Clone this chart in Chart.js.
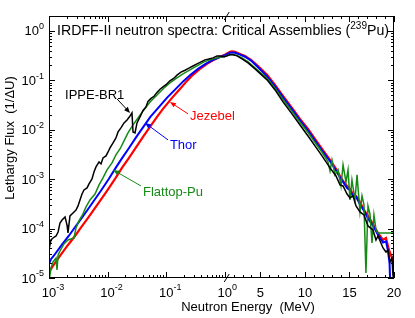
<!DOCTYPE html>
<html>
<head>
<meta charset="utf-8">
<script src="https://cdn.jsdelivr.net/npm/chart.js@4.4.1/dist/chart.umd.min.js"></script>
<style>
    html, body { margin: 0; padding: 0; background: #fff; }
    canvas { display: block; }
</style>
</head>
<body>
<canvas id="spectraChart" width="415" height="318"></canvas>
<script>
// Data (energy in MeV, lethargy flux in 1/dU)
const jezebelEnergy = [1.0e-3, 1.17e-3, 1.54e-3, 2.11e-3, 2.78e-3, 3.38e-3, 4.64e-3, 5.64e-3, 7.43e-3, 9.78e-3, 1.34e-2, 1.76e-2, 2.32e-2, 2.94e-2, 4.03e-2, 5.30e-2, 6.98e-2, 8.84e-2, 0.126, 0.172, 0.227, 0.287, 0.378, 0.499, 0.631, 0.831, 1.0, 1.26, 1.59, 1.82, 2.16, 2.72, 3.28, 3.95, 4.74, 5.75, 6.65, 7.54, 8.55, 9.45, 10.35, 11.13, 11.92, 12.82, 13.49, 13.94, 14.28, 14.73, 15.06, 15.40, 15.74, 16.18, 16.63, 17.08, 17.64, 18.20, 18.77, 19.10, 19.44, 19.77, 20.0];
const jezebelFlux = [1.32e-5, 1.75e-5, 2.79e-5, 4.66e-5, 7.08e-5, 9.82e-5, 1.64e-4, 2.27e-4, 3.62e-4, 5.77e-4, 1.01e-3, 1.69e-3, 2.69e-3, 4.08e-3, 7.15e-3, 1.14e-2, 1.82e-2, 2.64e-2, 4.41e-2, 6.70e-2, 9.73e-2, 0.129, 0.170, 0.215, 0.253, 0.298, 0.327, 0.351, 0.376, 0.385, 0.376, 0.342, 0.312, 0.259, 0.195, 0.129, 8.07e-2, 4.83e-2, 2.76e-2, 1.66e-2, 1.04e-2, 6.51e-3, 4.08e-3, 2.45e-3, 1.61e-3, 1.16e-3, 9.20e-4, 7.28e-4, 6.34e-4, 5.01e-4, 4.57e-4, 3.45e-4, 2.38e-4, 1.80e-4, 1.24e-4, 8.15e-5, 5.87e-5, 6.46e-5, 3.69e-5, 2.54e-5, 1.59e-5];

const thorEnergy = [1.0e-3, 1.08e-3, 1.20e-3, 1.65e-3, 2.17e-3, 2.64e-3, 3.63e-3, 4.41e-3, 5.80e-3, 7.64e-3, 1.047e-2, 1.375e-2, 1.78e-2, 2.26e-2, 3.10e-2, 4.08e-2, 5.37e-2, 7.07e-2, 0.103, 0.146, 0.199, 0.261, 0.350, 0.471, 0.607, 0.831, 1.0, 1.26, 1.59, 1.82, 2.16, 2.72, 3.28, 3.95, 4.74, 5.75, 6.65, 7.54, 8.55, 9.45, 10.35, 11.13, 11.92, 12.82, 13.49, 13.94, 14.28, 14.73, 15.06, 15.40, 15.74, 16.18, 16.63, 17.08, 17.64, 18.20, 18.77, 19.10, 19.32, 19.50, 19.60];
const thorFlux = [1.9e-5, 2.4e-5, 2.79e-5, 4.66e-5, 7.08e-5, 9.82e-5, 1.64e-4, 2.27e-4, 3.62e-4, 5.77e-4, 1.01e-3, 1.69e-3, 2.69e-3, 4.08e-3, 7.15e-3, 1.14e-2, 1.82e-2, 2.64e-2, 4.41e-2, 6.70e-2, 9.73e-2, 0.129, 0.170, 0.215, 0.253, 0.295, 0.318, 0.338, 0.360, 0.366, 0.360, 0.330, 0.300, 0.250, 0.183, 0.120, 7.5e-2, 4.5e-2, 2.57e-2, 1.54e-2, 9.6e-3, 6.0e-3, 3.8e-3, 2.3e-3, 1.5e-3, 1.08e-3, 8.8e-4, 6.6e-4, 6.0e-4, 4.5e-4, 4.4e-4, 3.1e-4, 2.3e-4, 1.6e-4, 1.15e-4, 7.5e-5, 5.2e-5, 5.5e-5, 3.6e-5, 2.0e-5, 6e-6];

const flattopEnergy = [1.0e-3, 1.08e-3, 1.17e-3, 1.32e-3, 1.37e-3, 1.43e-3, 1.60e-3, 1.80e-3, 2.11e-3, 2.67e-3, 2.89e-3, 3.25e-3, 3.81e-3, 4.29e-3, 5.01e-3, 6.10e-3, 7.15e-3, 8.35e-3, 9.78e-3, 1.19e-2, 1.39e-2, 1.63e-2, 1.91e-2, 2.23e-2, 2.72e-2, 3.31e-2, 4.03e-2, 5.30e-2, 6.98e-2, 9.18e-2, 0.116, 0.153, 0.194, 0.255, 0.336, 0.443, 0.561, 0.738, 0.90, 1.26, 1.59, 1.93, 2.38, 2.94, 3.62, 4.40, 5.75, 6.65, 7.54, 8.55, 9.45, 10.35, 11.13, 11.92, 12.26, 12.59, 12.82, 13.04, 13.38, 13.72, 14.05, 14.28, 14.61, 14.84, 15.06, 15.28, 15.62, 15.85, 16.18, 16.41, 16.63, 16.85, 17.08, 17.30, 17.53, 17.75, 17.98, 18.20, 20.0];
const flattopFlux = [8.3e-6, 1.59e-5, 2.11e-5, 2.54e-5, 1.45e-5, 2.92e-5, 3.86e-5, 4.88e-5, 5.88e-5, 6.45e-5, 1.03e-4, 1.43e-4, 1.98e-4, 2.74e-4, 3.79e-4, 5.01e-4, 7.64e-4, 1.06e-3, 1.54e-3, 2.13e-3, 3.09e-3, 4.08e-3, 5.93e-3, 8.61e-3, 1.25e-2, 1.73e-2, 2.40e-2, 3.65e-2, 5.06e-2, 7.01e-2, 8.85e-2, 0.112, 0.135, 0.162, 0.195, 0.236, 0.259, 0.284, 0.298, 0.312, 0.334, 0.334, 0.320, 0.284, 0.236, 0.178, 0.110, 6.9e-2, 4.1e-2, 2.35e-2, 1.42e-2, 8.8e-3, 5.5e-3, 3.5e-3, 2.81e-3, 2.23e-3, 1.47e-3, 2.45e-3, 1.22e-3, 1.54e-3, 7.28e-4, 1.94e-3, 8.77e-4, 1.54e-3, 3.79e-4, 9.63e-4, 3.79e-4, 1.22e-3, 2.17e-4, 4.57e-4, 3.01e-4, 1.26e-5, 2.87e-4, 1.98e-4, 5.11e-5, 1.88e-4, 9.37e-5, 8.15e-5, 8.15e-5];

const ippeEnergy = [1.0e-3, 1.08e-3, 1.17e-3, 1.32e-3, 1.43e-3, 1.54e-3, 1.67e-3, 1.88e-3, 2.03e-3, 2.11e-3, 2.28e-3, 2.57e-3, 2.89e-3, 3.13e-3, 3.38e-3, 3.66e-3, 3.96e-3, 4.46e-3, 4.82e-3, 5.42e-3, 5.86e-3, 6.34e-3, 7.15e-3, 7.73e-3, 8.35e-3, 9.40e-3, 1.02e-2, 1.10e-2, 1.24e-2, 1.39e-2, 1.51e-2, 1.69e-2, 1.91e-2, 2.15e-2, 2.42e-2, 2.61e-2, 2.72e-2, 2.94e-2, 3.18e-2, 3.58e-2, 4.03e-2, 4.53e-2, 4.90e-2, 5.51e-2, 6.21e-2, 6.98e-2, 7.85e-2, 8.84e-2, 9.95e-2, 0.116, 0.136, 0.153, 0.179, 0.210, 0.245, 0.287, 0.336, 0.394, 0.461, 0.540, 0.631, 0.738, 0.831, 0.972, 1.26, 1.59, 1.93, 2.38, 2.94, 3.62, 4.40, 5.75, 6.65, 7.54, 8.55, 9.45, 10.35, 11.13, 11.92, 12.82, 13.49, 13.94, 14.28, 14.73, 15.06, 15.40, 15.74, 16.18, 16.63, 17.08, 17.64, 17.98, 18.20, 18.77, 19.10, 19.32, 19.55, 19.77, 19.88, 20.0];
const ippeFlux = [3.69e-5, 5.88e-5, 6.45e-5, 7.08e-5, 8.53e-5, 1.30e-4, 1.49e-4, 1.72e-4, 1.18e-4, 8.15e-5, 1.80e-4, 2.07e-4, 2.38e-4, 2.87e-4, 3.79e-4, 5.01e-4, 6.04e-4, 6.64e-4, 8.00e-4, 1.01e-3, 1.40e-3, 1.77e-3, 2.23e-3, 2.03e-3, 2.69e-3, 2.95e-3, 3.55e-3, 4.29e-3, 5.41e-3, 6.82e-3, 9.02e-3, 1.09e-2, 1.37e-2, 1.58e-2, 1.90e-2, 2.19e-2, 9.02e-3, 8.62e-3, 1.37e-2, 1.82e-2, 2.45e-2, 2.90e-2, 3.75e-2, 4.30e-2, 4.75e-2, 5.70e-2, 6.60e-2, 7.35e-2, 8.15e-2, 9.80e-2, 0.110, 0.127, 0.146, 0.160, 0.176, 0.195, 0.215, 0.236, 0.259, 0.271, 0.284, 0.312, 0.312, 0.298, 0.312, 0.327, 0.327, 0.312, 0.271, 0.225, 0.170, 0.102, 6.39e-2, 3.65e-2, 2.09e-2, 1.25e-2, 7.48e-3, 4.70e-3, 2.95e-3, 1.69e-3, 1.16e-3, 7.64e-4, 7.28e-4, 5.01e-4, 4.16e-4, 4.57e-4, 2.87e-4, 2.17e-4, 1.88e-4, 1.13e-4, 9.37e-5, 5.88e-5, 7.08e-5, 4.05e-5, 3.36e-5, 3.69e-5, 2.11e-5, 2.54e-5, 1.15e-5, 8.3e-6];

// Axis ticks
const xLogMajor = [0.001, 0.01, 0.1, 1];
const xLinMajor = [5, 10, 15, 20];
const yMajor = [1e-5, 1e-4, 1e-3, 1e-2, 1e-1, 1];
const X_MIN = 0.001;
const X_MAX = 20;
const Y_MIN = 1e-5;
const Y_MAX = 2;

// Curve labels, anchored in data coordinates: text position, then arrow from -> to
const curveLabels = [
    { text: 'IPPE-BR1', color: '#000000', at: [1.88e-3, 0.0506], from: [1.45e-2, 0.042], to: [2.42e-2, 0.0219] },
    { text: 'Jezebel', color: '#ff0000', at: [0.255, 0.0182], from: [0.236, 0.0209], to: [0.116, 0.0365] },
    { text: 'Thor', color: '#0000ff', at: [0.116, 4.92e-3], from: [0.1077, 6.22e-3], to: [4.36e-2, 1.37e-2] },
    { text: 'Flattop-Pu', color: '#168a16', at: [4.03e-2, 5.51e-4], from: [3.72e-2, 7.28e-4], to: [1.24e-2, 1.54e-3] }
];

const FONT = '"Liberation Sans", Arial, Helvetica, sans-serif';

// Broken energy axis: log from 1 keV to 1 MeV, then linear from 1 to 20 MeV
const LOG_DECADES = 3;
const LIN_UNITS_PER_MEV = 0.1521;

function energyToUnit(e) {
    if (e <= 1) return Math.log10(e) + LOG_DECADES;
    return LOG_DECADES + (e - 1) * LIN_UNITS_PER_MEV;
}

function unitToEnergy(u) {
    if (u <= LOG_DECADES) return Math.pow(10, u - LOG_DECADES);
    return 1 + (u - LOG_DECADES) / LIN_UNITS_PER_MEV;
}

class BrokenEnergyScale extends Chart.Scale {
    determineDataLimits() {
        this.min = X_MIN;
        this.max = X_MAX;
    }
    buildTicks() {
        return xLogMajor.concat(xLinMajor).map(v => ({ value: v }));
    }
    getLabelForValue(v) {
        return String(v);
    }
    getPixelForValue(v) {
        const u0 = energyToUnit(this.min);
        const u1 = energyToUnit(this.max);
        return this.getPixelForDecimal((energyToUnit(v) - u0) / (u1 - u0));
    }
    getValueForPixel(p) {
        const u0 = energyToUnit(this.min);
        const u1 = energyToUnit(this.max);
        return unitToEnergy(u0 + this.getDecimalForPixel(p) * (u1 - u0));
    }
}
BrokenEnergyScale.id = 'brokenEnergy';
BrokenEnergyScale.defaults = {};
Chart.register(BrokenEnergyScale);

function toPoints(energy, flux) {
    return energy.map((e, i) => ({ x: e, y: flux[i] }));
}

// Minor tick positions
function xMinorTicks() {
    const ticks = [];
    for (let d = 0.001; d < 1; d *= 10) {
        for (let m = 2; m <= 9; m++) ticks.push(d * m);
    }
    for (let e = 2; e < 20; e++) {
        if (e % 5 !== 0) ticks.push(e);
    }
    return ticks;
}

function yMinorTicks() {
    const ticks = [];
    for (let d = 1e-5; d <= 1; d *= 10) {
        for (let m = 2; m <= 9; m++) {
            if (d * m <= Y_MAX) ticks.push(d * m);
        }
    }
    return ticks;
}

// "10" with a superscript exponent
function drawPower(ctx, exp, x, y, align) {
    ctx.font = '13px ' + FONT;
    const baseW = ctx.measureText('10').width;
    ctx.font = '9px ' + FONT;
    const supW = ctx.measureText(exp).width;
    let left;
    if (align === 'right') left = x - baseW - supW;
    else left = x - baseW / 2;
    ctx.textAlign = 'left';
    ctx.textBaseline = 'middle';
    ctx.font = '13px ' + FONT;
    ctx.fillText('10', left, y);
    ctx.font = '9px ' + FONT;
    ctx.fillText(exp, left + baseW, y - 5);
}

function drawArrow(ctx, x1, y1, x2, y2, color) {
    const ang = Math.atan2(y2 - y1, x2 - x1);
    const len = 6;
    const half = 2.5;
    ctx.strokeStyle = color;
    ctx.fillStyle = color;
    ctx.lineWidth = 1;
    ctx.beginPath();
    ctx.moveTo(x1, y1);
    ctx.lineTo(x2 - Math.cos(ang) * len * 0.8, y2 - Math.sin(ang) * len * 0.8);
    ctx.stroke();
    ctx.beginPath();
    ctx.moveTo(x2, y2);
    ctx.lineTo(x2 - Math.cos(ang) * len - Math.sin(ang) * half, y2 - Math.sin(ang) * len + Math.cos(ang) * half);
    ctx.lineTo(x2 - Math.cos(ang) * len + Math.sin(ang) * half, y2 - Math.sin(ang) * len - Math.cos(ang) * half);
    ctx.closePath();
    ctx.fill();
}

// Frame, inward ticks, labels and annotations
const framePlugin = {
    id: 'frame',
    afterDatasetsDraw(chart) {
        const { ctx, chartArea: area, scales: { x, y } } = chart;
        ctx.save();
        ctx.strokeStyle = '#000';
        ctx.fillStyle = '#000';
        ctx.lineWidth = 1;
        ctx.strokeRect(area.left + 0.5, area.top + 0.5, area.width - 1, area.height - 1);

        const tick = (px, len, vertical) => {
            ctx.beginPath();
            const p = Math.round(px) + 0.5;
            if (vertical) {
                ctx.moveTo(p, area.bottom); ctx.lineTo(p, area.bottom - len);
                ctx.moveTo(p, area.top); ctx.lineTo(p, area.top + len);
            } else {
                ctx.moveTo(area.left, p); ctx.lineTo(area.left + len, p);
                ctx.moveTo(area.right, p); ctx.lineTo(area.right - len, p);
            }
            ctx.stroke();
        };

        xLogMajor.concat(xLinMajor).forEach(v => tick(x.getPixelForValue(v), 6, true));
        xMinorTicks().forEach(v => tick(x.getPixelForValue(v), 3, true));
        yMajor.forEach(v => tick(y.getPixelForValue(v), 6, false));
        yMinorTicks().forEach(v => tick(y.getPixelForValue(v), 3, false));

        // Axis break marks
        const xb = x.getPixelForValue(1) + 2;
        ctx.beginPath();
        ctx.moveTo(xb - 2.5, area.top + 4); ctx.lineTo(xb + 2.5, area.top - 4);
        ctx.moveTo(xb - 2.5, area.bottom + 4); ctx.lineTo(xb + 2.5, area.bottom - 4);
        ctx.stroke();

        // Tick labels
        ctx.fillStyle = '#000';
        yMajor.forEach(v => {
            const exp = String(Math.round(Math.log10(v)));
            drawPower(ctx, exp, area.left - 5, y.getPixelForValue(v) + 1, 'right');
        });
        xLogMajor.forEach(v => {
            const exp = String(Math.round(Math.log10(v)));
            drawPower(ctx, exp, x.getPixelForValue(v), area.bottom + 15, 'center');
        });
        ctx.font = '13px ' + FONT;
        ctx.textAlign = 'center';
        ctx.textBaseline = 'middle';
        xLinMajor.forEach(v => ctx.fillText(String(v), x.getPixelForValue(v), area.bottom + 15));

        // Axis titles
        ctx.fillText('Neutron Energy  (MeV)', 248, area.bottom + 29);
        ctx.save();
        ctx.translate(10, 138);
        ctx.rotate(-Math.PI / 2);
        ctx.fillText('Lethargy Flux  (1/\u0394U)', 0, 0);
        ctx.restore();

        // Title inside the frame
        ctx.textAlign = 'left';
        let tx = area.left + 8;
        const ty = area.top + 15;
        const t1 = 'IRDFF-II neutron spectra: Critical Assemblies (';
        ctx.font = '14.2px ' + FONT;
        ctx.fillText(t1, tx, ty);
        tx += ctx.measureText(t1).width;
        ctx.font = '10px ' + FONT;
        ctx.fillText('239', tx, ty - 5);
        tx += ctx.measureText('239').width;
        ctx.font = '14.2px ' + FONT;
        ctx.fillText('Pu)', tx, ty);

        // Curve labels with arrows
        curveLabels.forEach(lab => {
            ctx.font = '13px ' + FONT;
            ctx.fillStyle = lab.color;
            ctx.textAlign = 'left';
            ctx.textBaseline = 'middle';
            ctx.fillText(lab.text, x.getPixelForValue(lab.at[0]), y.getPixelForValue(lab.at[1]));
            drawArrow(ctx,
                x.getPixelForValue(lab.from[0]), y.getPixelForValue(lab.from[1]),
                x.getPixelForValue(lab.to[0]), y.getPixelForValue(lab.to[1]), lab.color);
        });
        ctx.restore();
    }
};

const ctx = document.getElementById('spectraChart').getContext('2d');
new Chart(ctx, {
    type: 'line',
    data: {
        datasets: [{
            label: 'IPPE-BR1',
            data: toPoints(ippeEnergy, ippeFlux),
            borderColor: '#000000',
            borderWidth: 1.5,
            order: 1
        }, {
            label: 'Flattop-Pu',
            data: toPoints(flattopEnergy, flattopFlux),
            borderColor: '#168a16',
            borderWidth: 1.5,
            order: 2
        }, {
            label: 'Thor',
            data: toPoints(thorEnergy, thorFlux),
            borderColor: '#0000ff',
            borderWidth: 2,
            order: 3
        }, {
            label: 'Jezebel',
            data: toPoints(jezebelEnergy, jezebelFlux),
            borderColor: '#ff0000',
            borderWidth: 2.2,
            order: 4
        }]
    },
    options: {
        responsive: false,
        animation: false,
        devicePixelRatio: 1,
        layout: { padding: { left: 49, top: 16, right: 21, bottom: 40 } },
        elements: {
            point: { radius: 0 },
            line: { tension: 0, fill: false }
        },
        datasets: { line: { clip: 0 } },
        scales: {
            x: { type: 'brokenEnergy', display: false },
            y: { type: 'logarithmic', min: Y_MIN, max: Y_MAX, display: false }
        },
        plugins: {
            legend: { display: false },
            tooltip: { enabled: false }
        }
    },
    plugins: [framePlugin]
});
</script>
</body>
</html>
